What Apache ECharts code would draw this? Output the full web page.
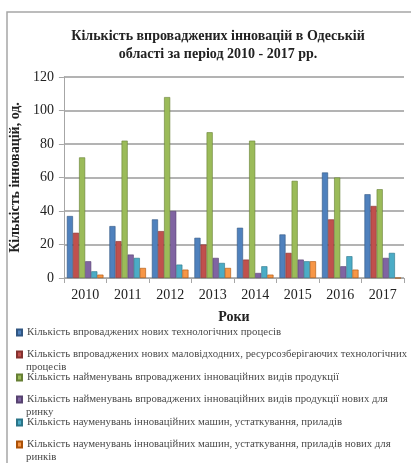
<!DOCTYPE html>
<html><head><meta charset="utf-8">
<script src="https://cdn.jsdelivr.net/npm/echarts@6/dist/echarts.min.js"></script>
<style>html,body{margin:0;padding:0;background:#fff}#c{width:411px;height:463px}</style>
</head><body><div id="c"></div>
<script>
const categories = ['2010','2011','2012','2013','2014','2015','2016','2017'];
const seriesNames = [
  'Кількість впроваджених нових технологічних процесів',
  'Кількість впроваджених нових маловідходних, ресурсозберігаючих технологічних процесів',
  'Кількість найменувань впроваджених інноваційних видів продукції',
  'Кількість найменувань впроваджених інноваційних видів продукції нових для ринку',
  'Кількість науменувань інноваційних машин, устаткування, приладів',
  'Кількість науменувань інноваційних машин, устаткування, приладів нових для ринків'
];
const techProcesses = [37, 31, 35, 24, 30, 26, 63, 50];
const lowWasteProcesses = [27, 22, 28, 20, 11, 15, 35, 43];
const productNames = [72, 82, 108, 87, 82, 58, 60, 53];
const productNewMarket = [10, 14, 40, 12, 3, 11, 7, 12];
const machines = [4, 12, 8, 9, 7, 10, 13, 15];
const machinesNewMarket = [2, 6, 5, 6, 2, 10, 5, 0];
const yTicks = [0, 20, 40, 60, 80, 100, 120];

const colors = ['#4F81BD','#C0504D','#9BBB59','#8064A2','#4BACC6','#F79646'];
const dataSets = [techProcesses, lowWasteProcesses, productNames, productNewMarket, machines, machinesNewMarket];
const font = '"Liberation Serif","Times New Roman",serif';
const legendFontSize = 10.8;
const legendTextColor = '#4a4a4a';
const legendTops = [326, 348, 371, 393, 416, 438];
const legendTextX = 26;
const wrapWidth = 386;

// wrap legend names into lines by measuring text
const ctx = document.createElement('canvas').getContext('2d');
ctx.font = legendFontSize + 'px ' + font;
function wrap(text) {
  const words = text.split(' ');
  const lines = [];
  let cur = '';
  words.forEach(w => {
    const t = cur ? cur + ' ' + w : w;
    if (ctx.measureText(t).width > wrapWidth && cur) { lines.push(cur); cur = w; }
    else cur = t;
  });
  if (cur) lines.push(cur);
  return lines;
}
const wrapped = seriesNames.map(wrap);

const graphics = [{
  type: 'polyline', silent: true,
  shape: {points: [[7, 463], [7, 12], [411, 12]]},
  style: {stroke: '#a6a6a6', lineWidth: 1.5, fill: null}
}];
wrapped.forEach((lines, i) => {
  lines.slice(1).forEach((ln, k) => {
    graphics.push({
      type: 'text', silent: true, left: legendTextX, top: legendTops[i] + 13 * (k + 1) + 1,
      style: {text: ln, font: legendFontSize + 'px ' + font, fill: legendTextColor}
    });
  });
});

const chart = echarts.init(document.getElementById('c'), null, {renderer:'canvas'});
chart.setOption({
  animation: false,
  color: colors,
  graphic: graphics,
  title: {
    text: 'Кількість впроваджених інновацій в Одеській\nобласті за період 2010 - 2017 рр.',
    left: 213, textAlign: 'center', top: 22,
    textStyle: {fontFamily: font, fontSize: 14, fontWeight: 'bold', color: '#222', lineHeight: 18}
  },
  grid: {left: 63, right: 7, top: 77, height: 201},
  xAxis: {
    type: 'category', data: categories,
    name: 'Роки', nameLocation: 'middle', nameGap: 32,
    nameTextStyle: {fontFamily: font, fontSize: 14, fontWeight: 'bold', color: '#222'},
    axisLine: {lineStyle: {color: '#a6a6a6', width: 1}},
    axisTick: {show: true, lineStyle: {color: '#a6a6a6'}},
    axisLabel: {fontFamily: font, fontSize: 14, color: '#222', margin: 10}
  },
  yAxis: {
    type: 'value', min: yTicks[0], max: yTicks[yTicks.length-1], interval: 20,
    name: 'Кількість інновацій, од.', nameLocation: 'middle', nameGap: 36,
    nameTextStyle: {fontFamily: font, fontSize: 14, fontWeight: 'bold', color: '#222'},
    axisLine: {show: true, lineStyle: {color: '#a6a6a6'}},
    axisTick: {show: true, lineStyle: {color: '#a6a6a6'}},
    splitLine: {lineStyle: {color: '#9a9a9a', width: 1.5}},
    axisLabel: {fontFamily: font, fontSize: 14, color: '#222', margin: 10}
  },
  legend: seriesNames.map((n, i) => ({
    data: [n], orient: 'vertical', left: 16, top: legendTops[i],
    itemWidth: 5, itemHeight: 6, icon: 'rect', itemGap: 2, padding: 0,
    formatter: name => wrapped[seriesNames.indexOf(name)][0],
    textStyle: {fontFamily: font, fontSize: legendFontSize, color: legendTextColor, lineHeight: 13}
  })),
  series: dataSets.map((d, i) => ({
    name: seriesNames[i], type: 'bar', data: d,
    barGap: '0%', barCategoryGap: '14%',
    itemStyle: {color: colors[i], borderColor: echarts.color.modifyHSL(colors[i], null, null, 0.35), borderWidth: 0.6}
  }))
});
</script></body></html>
